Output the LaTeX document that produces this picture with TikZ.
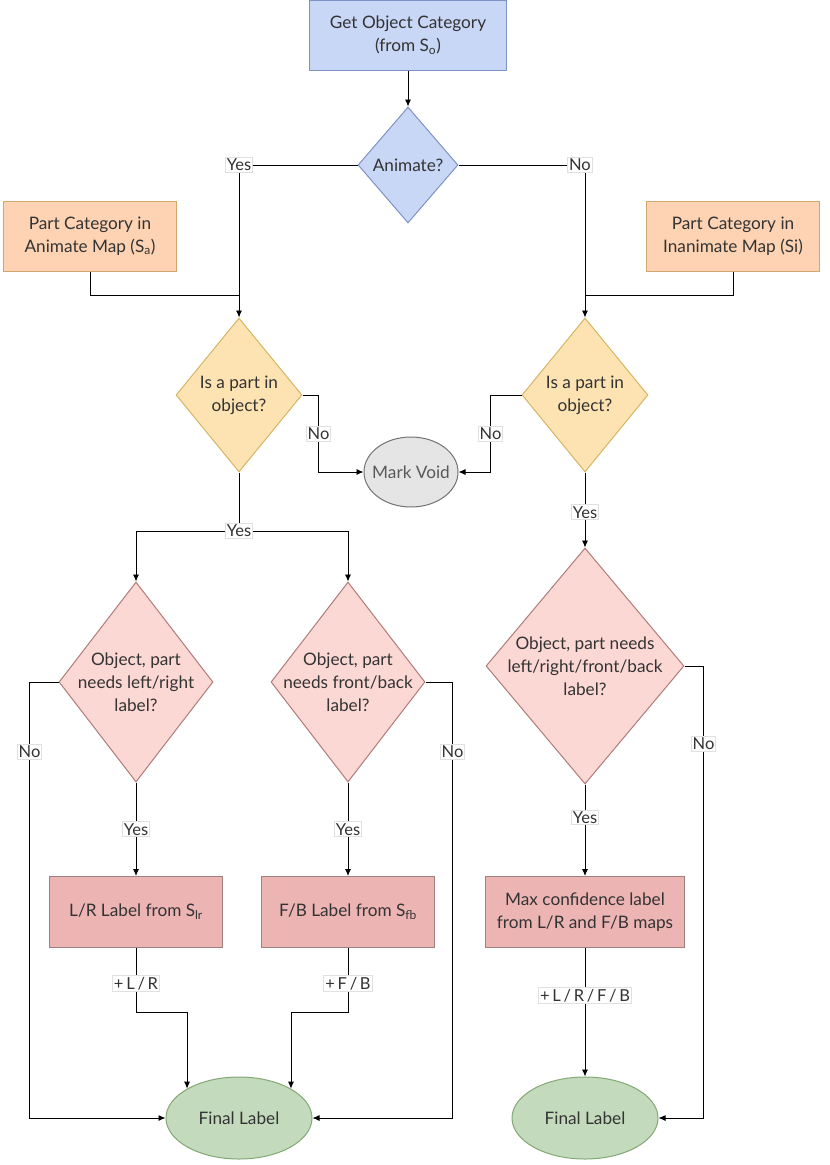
\documentclass[tikz,border=0pt]{standalone}
\usepackage{fontspec}
\setmainfont{Lato}
\usetikzlibrary{arrows.meta,shapes.geometric,calc}
\tikzset{>={Latex[length=7pt,width=6pt]}}
\definecolor{txt}{HTML}{333333}
\definecolor{bluefill}{HTML}{C9D7F7}
\definecolor{blueline}{HTML}{7E93C5}
\definecolor{orangefill}{HTML}{FDD3B3}
\definecolor{orangeline}{HTML}{D2A76B}
\definecolor{yellowfill}{HTML}{FDE3B2}
\definecolor{yellowline}{HTML}{D6B463}
\definecolor{pinkfill}{HTML}{FCD8D5}
\definecolor{pinkline}{HTML}{B07B78}
\definecolor{rosefill}{HTML}{EDB4B4}
\definecolor{roseline}{HTML}{9E7F7F}
\definecolor{greenfill}{HTML}{C3DBBC}
\definecolor{greenline}{HTML}{82A874}
\tikzstyle{startbox}=[rectangle,draw=blueline,fill=bluefill,line width=1pt,minimum width=197pt,minimum height=70pt,align=center]
\tikzstyle{animq}=[diamond,draw=blueline,fill=bluefill,line width=1pt,minimum width=100pt,minimum height=116pt,inner sep=-20pt,align=center]
\tikzstyle{mapbox}=[rectangle,draw=orangeline,fill=orangefill,line width=1pt,minimum width=173pt,minimum height=70pt,align=center]
\tikzstyle{partq}=[diamond,draw=yellowline,fill=yellowfill,line width=1pt,minimum width=126pt,minimum height=154pt,inner sep=-20pt,align=center]
\tikzstyle{voidnode}=[ellipse,draw=black!55,fill=black!10,line width=1pt,minimum width=94pt,minimum height=70pt,inner sep=-12pt,text=black!65]
\tikzstyle{sideq}=[diamond,draw=pinkline,fill=pinkfill,line width=1pt,minimum width=154pt,minimum height=200pt,inner sep=-25pt,align=center]
\tikzstyle{labelbox}=[rectangle,draw=roseline,fill=rosefill,line width=1pt,minimum width=173pt,minimum height=71pt,align=center]
\tikzstyle{final}=[ellipse,draw=greenline,fill=greenfill,line width=1pt,minimum width=146pt,minimum height=82pt,inner sep=0pt]
\tikzstyle{edgelab}=[rectangle,draw=black!12,fill=white,inner sep=1.5pt,font=\fontsize{16.5}{18}\selectfont]

\begin{document}
\begin{tikzpicture}[x=1pt,y=-1pt,font=\fontsize{17.2}{23}\selectfont,text=txt,line width=0.9pt]
\useasboundingbox (0,0) rectangle (830,1165);
\def \lx {239};
\def \rx {585};

\node[startbox] (obj) at (408,35) {Get Object Category\\(from S\textsubscript{o})};
\node[animq] (anim) at (408,165) {Animate?};

\node[mapbox] (mapA) at (90,236) {Part Category in\\Animate Map (S\textsubscript{a})};
\node[mapbox] (mapI) at (733,236) {Part Category in\\Inanimate Map (Si)};
\coordinate (jA) at (\lx,295);
\coordinate (jI) at (\rx,295);

\node[partq] (partA) at (\lx,395) {Is a part in\\object?};
\node[partq] (partI) at (\rx,395) {Is a part in\\object?};
\node[voidnode] (void) at (411,472) {Mark Void};

\node[sideq] (lrq) at (136,682) {Object, part\\needs left/right\\label?};
\node[sideq] (fbq) at (348,682) {Object, part\\needs front/back\\label?};
\node[sideq,minimum width=198pt,minimum height=236pt] (allq) at (\rx,666) {Object, part needs\\left/right/front/back\\label?};

\node[labelbox] (lrbox) at (136,912) {L/R Label from S\textsubscript{lr}};
\node[labelbox] (fbbox) at (348,912) {F/B Label from S\textsubscript{fb}};
\node[labelbox,minimum width=199pt] (maxbox) at (\rx,912) {Max confidence label\\from L/R and F/B maps};

\node[final] (finA) at (\lx,1118) {Final Label};
\node[final] (finI) at (\rx,1118) {Final Label};

% top
\draw[->] (obj) -- (anim);
\draw (mapA.south) |- (jA);
\draw (mapI.south) |- (jI);
\draw[->] (anim.west) -| node[edgelab,pos=0.5] {Yes} (partA.north);
\draw[->] (anim.east) -| node[edgelab,pos=0.48] {No} (partI.north);

% void
\draw[->] (partA.east) -- ++(16,0) |- node[edgelab,pos=0.25] {No} (void.west);
\draw[->] (partI.west) -- ++(-31,0) |- node[edgelab,pos=0.25] {No} (void.east);

% split
\coordinate (splitA) at (\lx,531);
\draw[->] (splitA) -| (lrq.north);
\draw[->] (splitA) -| (fbq.north);
\draw (partA.south) -- node[edgelab,pos=1] {Yes} (splitA);
\draw[->] (partI.south) -- node[edgelab,pos=0.53] {Yes} (allq.north);

\foreach \q/\b in {lrq/lrbox,fbq/fbbox} {
	\draw[->] (\q.south) -- node[edgelab,pos=0.5] {Yes} (\b.north);
};
\draw[->] (allq.south) -- node[edgelab,pos=0.36] {Yes} (maxbox.north);

% no branches
\draw[->] (lrq.west) -- ++(-29,0) |- node[edgelab,pos=0.08] {No} (finA.west);
\draw[->] (fbq.east) -- ++(27,0) |- node[edgelab,pos=0.08] {No} (finA.east);
\draw[->] (allq.east) -- ++(19,0) |- node[edgelab,pos=0.086] {No} (finI.east);

% final
\draw[->] (lrbox.south) |- node[edgelab,pos=0.28] {+\,L\,/\,R} (finA.north west |- 0,1012) -- (finA.north west);
\draw[->] (fbbox.south) |- node[edgelab,pos=0.28] {+\,F\,/\,B} (finA.north east |- 0,1012) -- (finA.north east);
\draw[->] (maxbox.south) -- node[edgelab,pos=0.37] {+\,L\,/\,R\,/\,F\,/\,B} (finI.north);

\end{tikzpicture}
\end{document}
